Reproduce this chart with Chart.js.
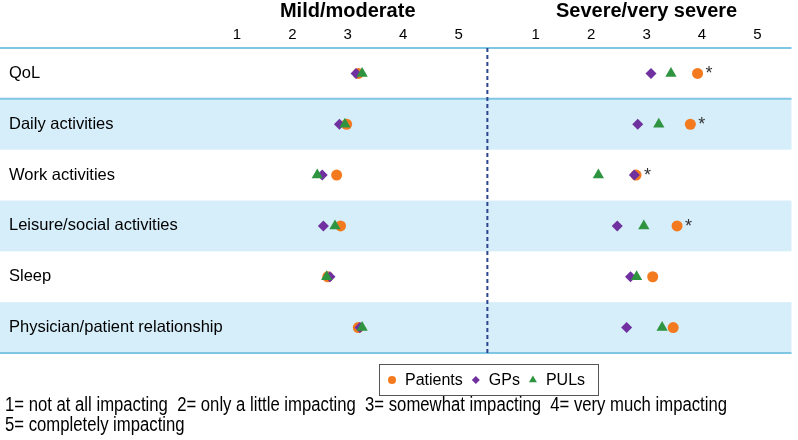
<!DOCTYPE html>
<html>
<head>
<meta charset="utf-8">
<script src="https://cdn.jsdelivr.net/npm/chart.js@4.4.1/dist/chart.umd.min.js"></script>
<style>
  html, body { margin: 0; padding: 0; background: #ffffff; }
  #wrap { position: relative; width: 798px; height: 440px; }
  canvas { display: block; }
</style>
</head>
<body>
<div id="wrap"><canvas id="c" width="798" height="440"></canvas></div>
<script>
// ---------- data ----------
const categories = ['QoL', 'Daily activities', 'Work activities', 'Leisure/social activities', 'Sleep', 'Physician/patient relationship'];
const panelTitles = ['Mild/moderate', 'Severe/very severe'];
const tickValues = [1, 2, 3, 4, 5];
const seriesNames = ['Patients', 'GPs', 'PULs'];

// Mild/moderate panel
const mildPatients = [3.19, 2.98, 2.80, 2.87, 2.64, 3.19];
const mildGPs      = [3.15, 2.85, 2.54, 2.56, 2.68, 3.22];
const mildPULs     = [3.26, 2.95, 2.45, 2.77, 2.62, 3.26];

// Severe/very severe panel
const severePatients = [3.92, 3.79, 2.81, 3.55, 3.11, 3.48];
const severeGPs      = [3.08, 2.84, 2.78, 2.47, 2.71, 2.64];
const severePULs     = [3.44, 3.22, 2.13, 2.95, 2.82, 3.28];

// significance marks (*) next to Patients in the severe panel
const severeSignificant = [true, true, true, true, false, false];

const footnoteLines = [
  '1= not at all impacting  2= only a little impacting  3= somewhat impacting  4= very much impacting',
  '5= completely impacting'
];

// ---------- styles ----------
const seriesColors = ['#f47a20', '#7030a0', '#2e9440'];
const seriesStyles = ['circle', 'rectRot', 'triangle'];
const seriesRadius = [5.5, 5.5, 6.5];
const legendRadius = [4, 4, 4.6];
const FONT = '"Liberation Sans", Arial, Helvetica, sans-serif';

function makeDataset(values, s, axisId) {
  return {
    label: seriesNames[s],
    data: values.map((v, i) => ({ x: v, y: categories[i] })),
    xAxisID: axisId,
    yAxisID: 'y',
    pointStyle: seriesStyles[s],
    pointRadius: seriesRadius[s],
    pointHoverRadius: seriesRadius[s],
    backgroundColor: seriesColors[s],
    borderColor: seriesColors[s],
    borderWidth: 0,
    showLine: false,
    order: 3 - s
  };
}

function drawMarker(ctx, style, x, y, r) {
  ctx.beginPath();
  if (style === 'circle') {
    ctx.arc(x, y, r, 0, Math.PI * 2);
  } else if (style === 'rectRot') {
    ctx.moveTo(x - r, y); ctx.lineTo(x, y - r); ctx.lineTo(x + r, y); ctx.lineTo(x, y + r);
  } else {
    const h = Math.sin(Math.PI / 3) * r;
    ctx.moveTo(x, y - r); ctx.lineTo(x + h, y + r / 2); ctx.lineTo(x - h, y + r / 2);
  }
  ctx.closePath();
  ctx.fill();
}

const decor = {
  id: 'decor',
  beforeDraw(chart) {
    const { ctx, chartArea: a, scales } = chart;
    const y = scales.y, x1 = scales.x1;
    const step = (a.bottom - a.top) / categories.length;
    ctx.save();
    ctx.fillStyle = '#d5eefa';
    categories.forEach((c, i) => {
      if (i % 2 === 1) {
        const yc = y.getPixelForValue(i);
        ctx.fillRect(0, yc - step / 2, a.right, step);
      }
    });
    ctx.strokeStyle = '#80c6e2';
    ctx.lineWidth = 2;
    [a.top, a.top + step, a.bottom].forEach(yy => {
      ctx.beginPath(); ctx.moveTo(0, yy); ctx.lineTo(a.right, yy); ctx.stroke();
    });
    ctx.strokeStyle = '#2c4590';
    ctx.setLineDash([4, 3]);
    ctx.lineWidth = 2;
    ctx.beginPath(); ctx.moveTo(x1.right, a.top); ctx.lineTo(x1.right, a.bottom); ctx.stroke();
    ctx.restore();
  },
  afterDraw(chart) {
    const { ctx, scales } = chart;
    const y = scales.y;
    ctx.save();
    // panel headers
    ctx.fillStyle = '#000';
    ctx.font = 'bold 20px ' + FONT;
    ctx.textAlign = 'center';
    ctx.textBaseline = 'alphabetic';
    ctx.fillText(panelTitles[0], scales.x1.getPixelForValue(3), 17);
    ctx.fillText(panelTitles[1], scales.x2.getPixelForValue(3), 17);

    // asterisks
    ctx.fillStyle = '#333';
    ctx.font = '18px ' + FONT;
    ctx.textAlign = 'center';
    severeSignificant.forEach((sig, i) => {
      if (!sig) return;
      const px = scales.x2.getPixelForValue(severePatients[i]);
      const py = y.getPixelForValue(i);
      ctx.fillText('*', px + 11.5, py + 6);
    });

    // legend
    ctx.strokeStyle = '#555';
    ctx.lineWidth = 1;
    ctx.strokeRect(379.5, 364.5, 219, 31);
    ctx.font = '16px ' + FONT;
    ctx.textAlign = 'left';
    ctx.textBaseline = 'middle';
    let lx = 392;
    const ly = 380;
    seriesNames.forEach((name, s) => {
      ctx.fillStyle = seriesColors[s];
      drawMarker(ctx, seriesStyles[s], lx, ly, legendRadius[s]);
      ctx.fillStyle = '#000';
      ctx.fillText(name, lx + 13, ly + 0.5);
      lx = lx + 13 + ctx.measureText(name).width + 13;
    });

    // footnote
    ctx.font = '20px "Liberation Sans Narrow", "Arial Narrow", ' + FONT;
    ctx.textBaseline = 'alphabetic';
    ctx.fillStyle = '#000';
    const w = ctx.measureText(footnoteLines[0]).width;
    const sx = 722 / w;
    [410.5, 431].forEach((by, k) => {
      ctx.save();
      ctx.translate(5, by);
      ctx.scale(sx, 1);
      ctx.fillText(footnoteLines[k], 0, 0);
      ctx.restore();
    });
    ctx.restore();
  }
};

function xAxis(min, max, stackW, sortW) {
  return {
    type: 'linear',
    position: 'top',
    stack: 'panels',
    stackWeight: stackW,
    weight: sortW,
    min: min,
    max: max,
    grid: { display: false, drawTicks: false },
    border: { display: false },
    ticks: { font: { size: 15, family: FONT }, color: '#000', padding: 4, autoSkip: false, maxRotation: 0 },
    afterBuildTicks: s => { s.ticks = tickValues.map(v => ({ value: v })); },
    afterFit: s => { s.height = 48; }
  };
}

new Chart(document.getElementById('c'), {
  type: 'scatter',
  data: {
    datasets: [
      makeDataset(mildPatients, 0, 'x1'),
      makeDataset(mildGPs, 1, 'x1'),
      makeDataset(mildPULs, 2, 'x1'),
      makeDataset(severePatients, 0, 'x2'),
      makeDataset(severeGPs, 1, 'x2'),
      makeDataset(severePULs, 2, 'x2')
    ]
  },
  options: {
    responsive: false,
    animation: false,
    devicePixelRatio: 1,
    layout: { padding: { left: 9, right: 3, top: 0, bottom: 87 } },
    plugins: { legend: { display: false }, tooltip: { enabled: false }, title: { display: false } },
    scales: {
      x1: xAxis(0.7668, 5.5202, 265, 1),
      x2: xAxis(0.1265, 5.6153, 306, 0),
      y: {
        type: 'category',
        labels: categories,
        offset: true,
        position: 'left',
        grid: { display: false, drawTicks: false },
        border: { display: false },
        ticks: { crossAlign: 'far', padding: 0, autoSkip: false, color: '#000', font: { size: 16.5, family: FONT } },
        afterFit: s => { s.width = 215; }
      }
    }
  },
  plugins: [decor]
});
</script>
</body>
</html>
